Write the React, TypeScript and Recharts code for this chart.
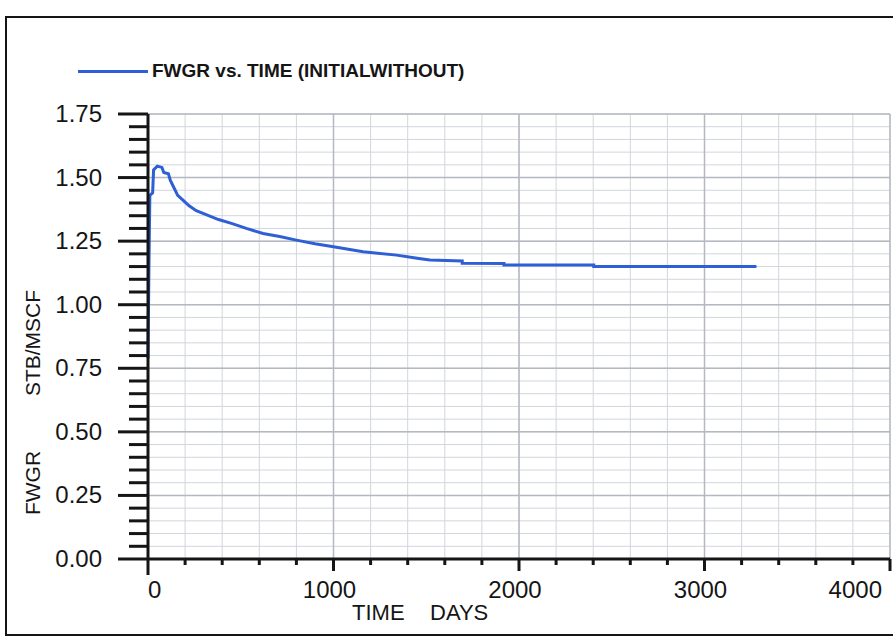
import React from 'react';
import { LineChart, Line, XAxis, YAxis, CartesianGrid, ReferenceLine } from 'recharts';

// FWGR vs TIME
const days = [0, 5, 10, 25, 30, 50, 75, 85, 110, 120, 140, 160, 190, 220, 260, 310, 380, 450, 530, 620, 710, 800, 900, 1000, 1160, 1340, 1460, 1520, 1694, 1694, 1919, 1919, 2403, 2403, 3280];
const fwgr = [0.79, 1.15, 1.43, 1.44, 1.53, 1.545, 1.54, 1.52, 1.515, 1.49, 1.46, 1.43, 1.41, 1.39, 1.37, 1.355, 1.335, 1.32, 1.3, 1.28, 1.268, 1.254, 1.24, 1.228, 1.208, 1.195, 1.182, 1.176, 1.172, 1.163, 1.162, 1.156, 1.156, 1.15, 1.15];

const xTicks = [0, 200, 400, 600, 800, 1000, 1200, 1400, 1600, 1800, 2000, 2200, 2400, 2600, 2800, 3000, 3200, 3400, 3600, 3800, 4000];
const xMajor = [1000, 2000, 3000, 4000];
const yTicks = [0, 0.05, 0.1, 0.15, 0.2, 0.25, 0.3, 0.35, 0.4, 0.45, 0.5, 0.55, 0.6, 0.65, 0.7, 0.75, 0.8, 0.85, 0.9, 0.95, 1, 1.05, 1.1, 1.15, 1.2, 1.25, 1.3, 1.35, 1.4, 1.45, 1.5, 1.55, 1.6, 1.65, 1.7, 1.75];
const yMajor = [0.25, 0.5, 0.75, 1, 1.25, 1.5, 1.75];
const yLabels = ['0.00', '0.25', '0.50', '0.75', '1.00', '1.25', '1.50', '1.75'];

const data = days.map((d, i) => ({ t: d, v: fwgr[i] }));

const LINE = '#2f5fd4';
const INK = '#151515';
const FONT = '"Liberation Sans", Arial, sans-serif';

const isMajorY = (v: number) => Math.abs(v * 4 - Math.round(v * 4)) < 1e-6;

const YTick = (props: any) => {
  const { x, y, payload } = props;
  const v = payload.value as number;
  const major = isMajorY(v);
  return (
    <g>
      <line x1={x - (major ? 30 : 19)} x2={x} y1={y} y2={y} stroke={INK} strokeWidth={3} />
      {major && (
        <text x={x - 46} y={y} dy={8} textAnchor="end" fontSize={24} fontFamily={FONT} fill={INK}>
          {yLabels[Math.round(v * 4)]}
        </text>
      )}
    </g>
  );
};

const XTick = (props: any) => {
  const { x, y, payload } = props;
  const v = payload.value as number;
  const major = v % 1000 === 0;
  let anchor: 'start' | 'middle' | 'end' = 'middle';
  let tx = x - 4;
  if (v === 0) { anchor = 'start'; tx = x; }
  if (v === 4000) { anchor = 'end'; tx = x - 8; }
  return (
    <g>
      <line x1={x} x2={x} y1={y} y2={y + (v === 0 ? 16 : major ? 12 : 6)} stroke={INK} strokeWidth={3} />
      {major || v === 0 ? (
        <text x={tx} y={y + 39} textAnchor={anchor} fontSize={24} fontFamily={FONT} fill={INK}>
          {v}
        </text>
      ) : null}
    </g>
  );
};

export default function App() {
  return (
    <div style={{ position: 'absolute', left: 0, top: 0, width: 893, height: 640, background: '#fff', overflow: 'hidden' }}>
      <div style={{ position: 'absolute', left: 5, top: 16, width: 900, height: 616, border: `2px solid ${INK}` }} />
      <div style={{ position: 'absolute', left: 78, top: 60, display: 'flex', alignItems: 'center', fontFamily: '"Liberation Sans Narrow", "Liberation Sans", Arial, sans-serif', fontWeight: 700, fontSize: 19, color: INK }}>
        <span style={{ display: 'inline-block', width: 70, height: 3, background: LINE, marginRight: 4 }} />
        <span>FWGR vs. TIME (INITIALWITHOUT)</span>
      </div>
      <LineChart width={893} height={640} data={data} margin={{ top: 114, right: 3, bottom: 0, left: 0 }} style={{ position: 'absolute', left: 0, top: 0 }}>
        <CartesianGrid stroke="#d2d5dc" strokeWidth={1} />
        {yMajor.map((v) => (
          <ReferenceLine key={'y' + v} y={v} stroke="#b4b8c1" strokeWidth={1.5} />
        ))}
        {xMajor.map((v) => (
          <ReferenceLine key={'x' + v} x={v} stroke="#b4b8c1" strokeWidth={1.5} />
        ))}
        <XAxis
          dataKey="t"
          type="number"
          domain={[0, 4000]}
          ticks={xTicks}
          interval={0}
          height={81}
          tickSize={0}
          tickMargin={0}
          axisLine={{ stroke: INK, strokeWidth: 3 }}
          tick={<XTick />}
          label={{
            content: () => (
              <g>
                <text x={352} y={620} fontSize={22} fontFamily={FONT} fill={INK}>TIME</text>
                <text x={430} y={620} fontSize={22} fontFamily={FONT} fill={INK}>DAYS</text>
              </g>
            ),
          }}
        />
        <YAxis
          type="number"
          domain={[0, 1.75]}
          ticks={yTicks}
          interval={0}
          width={148}
          tickSize={0}
          tickMargin={0}
          axisLine={{ stroke: INK, strokeWidth: 3 }}
          tick={<YTick />}
          label={{
            content: () => (
              <g>
                <text x={40} y={483} transform="rotate(-90 40 483)" textAnchor="middle" fontSize={21} fontFamily={FONT} fill={INK}>FWGR</text>
                <text x={40} y={343} transform="rotate(-90 40 343)" textAnchor="middle" fontSize={21} fontFamily={FONT} fill={INK}>STB/MSCF</text>
              </g>
            ),
          }}
        />
        <Line type="linear" dataKey="v" stroke={LINE} strokeWidth={3} dot={false} isAnimationActive={false} />
      </LineChart>
    </div>
  );
}
